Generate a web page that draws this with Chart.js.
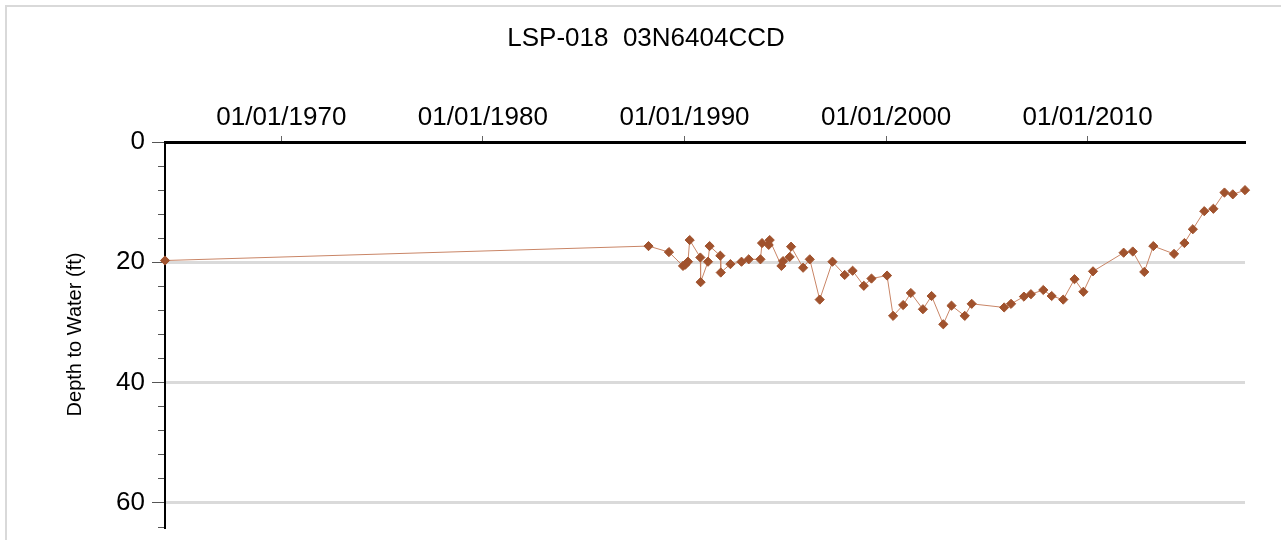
<!DOCTYPE html>
<html>
<head>
<meta charset="utf-8">
<title>LSP-018 03N6404CCD</title>
<script src="https://cdn.jsdelivr.net/npm/chart.js@4.4.0/dist/chart.umd.min.js"></script>
<style>
    html, body { margin: 0; padding: 0; background: #fff; overflow: hidden; }
    #frame { position: absolute; left: 5px; top: 5px; width: 1400px; height: 700px;
             border-top: 2px solid #d9d9d9; border-left: 2px solid #d9d9d9; }
    #wellChart { position: absolute; left: 0; top: 0; }
</style>
</head>
<body>
<div id="frame"></div>
<canvas id="wellChart" width="1281" height="540"></canvas>
<script>
    'use strict';

    var chartTitle = 'LSP-018  03N6404CCD';
    var yTitle = 'Depth to Water (ft)';

    var sampleDates = [
        '1964-03-25', '1988-03-20', '1989-03-25', '1989-12-05', '1990-01-15', '1990-03-05',
        '1990-04-05', '1990-10-15', '1990-10-20', '1991-03-03', '1991-04-01', '1991-10-12',
        '1991-10-20', '1992-04-12', '1992-10-30', '1993-03-10', '1993-10-08', '1993-11-06',
        '1994-03-07', '1994-03-25', '1994-10-23', '1994-11-22', '1995-03-22', '1995-04-16',
        '1995-11-20', '1996-03-20', '1996-09-16', '1997-05-05', '1997-12-12', '1998-05-05',
        '1998-11-24', '1999-04-12', '2000-01-19', '2000-05-08', '2000-11-06', '2001-03-25',
        '2001-10-30', '2002-04-05', '2002-11-03', '2003-04-01', '2003-11-27', '2004-04-01',
        '2005-11-10', '2006-03-15', '2006-11-03', '2007-03-10', '2007-10-20', '2008-03-20',
        '2008-10-15', '2009-05-08', '2009-10-15', '2010-04-08', '2011-10-15', '2012-03-28',
        '2012-10-23', '2013-04-05', '2014-04-15', '2014-10-20', '2015-03-22', '2015-10-15',
        '2016-03-28', '2016-10-15', '2017-03-15', '2017-10-22'
    ];

    // depth to water (ft)
    var depthFt = [
        19.7, 17.3, 18.3, 20.6, 20.4, 19.9,
        16.3, 19.2, 23.3, 19.9, 17.3, 18.9,
        21.7, 20.3, 19.9, 19.5, 19.5, 16.8,
        17.1, 16.3, 20.6, 19.8, 19.1, 17.4,
        20.9, 19.5, 26.2, 19.9, 22.1, 21.4,
        23.9, 22.7, 22.2, 28.9, 27.1, 25.1,
        27.8, 25.6, 30.3, 27.2, 28.9, 26.9,
        27.5, 26.9, 25.7, 25.3, 24.6, 25.6,
        26.2, 22.8, 24.9, 21.5, 18.4, 18.2,
        21.6, 17.3, 18.6, 16.8, 14.5, 11.5,
        11.1, 8.4, 8.7, 8.0
    ];

    var decadeYears = [1970, 1980, 1990, 2000, 2010];
    var depthLabels = [0, 20, 40, 60];

    var fontFamily = '"Liberation Sans", Arial, Helvetica, sans-serif';

    function toTime(s) {
        var p = s.split('-');
        return Date.UTC(+p[0], +p[1] - 1, +p[2]);
    }

    var points = sampleDates.map(function (d, i) {
        return { x: toTime(d), y: depthFt[i] };
    });

    var xMin = toTime(sampleDates[0]);
    var xMax = toTime(sampleDates[sampleDates.length - 1]);

    var wellChart = new Chart(document.getElementById('wellChart'), {
        type: 'line',
        data: {
            datasets: [{
                label: yTitle,
                data: points,
                borderColor: '#c98566',
                borderWidth: 1,
                backgroundColor: '#a0522d',
                pointBackgroundColor: '#a0522d',
                pointBorderColor: '#a0522d',
                pointBorderWidth: 1,
                pointStyle: 'rectRot',
                pointRadius: 4.6,
                tension: 0,
                fill: false,
                clip: false
            }]
        },
        options: {
            responsive: false,
            animation: false,
            layout: { padding: { left: 11, top: 0, right: 0, bottom: 0 } },
            plugins: {
                legend: { display: false },
                tooltip: { enabled: false },
                title: {
                    display: true,
                    text: chartTitle,
                    color: '#000',
                    font: { family: fontFamily, size: 26, weight: 'normal', lineHeight: 1 },
                    padding: { top: 26, bottom: 0 }
                }
            },
            scales: {
                x: {
                    type: 'linear',
                    position: 'top',
                    min: xMin,
                    max: xMax,
                    afterBuildTicks: function (scale) {
                        scale.ticks = decadeYears.map(function (y) {
                            return { value: Date.UTC(y, 0, 1) };
                        });
                    },
                    afterFit: function (scale) { scale.height = 90; },
                    ticks: {
                        autoSkip: false,
                        maxRotation: 0,
                        padding: 3,
                        color: '#000',
                        font: { family: fontFamily, size: 26 },
                        callback: function (value) {
                            return '01/01/' + new Date(value).getUTCFullYear();
                        }
                    },
                    grid: {
                        display: true,
                        drawOnChartArea: false,
                        tickLength: 6,
                        tickColor: '#666',
                        tickWidth: 1
                    },
                    border: { display: true, color: '#000', width: 3 }
                },
                y: {
                    type: 'linear',
                    position: 'left',
                    reverse: true,
                    min: 0,
                    max: 64,
                    weight: 1,
                    afterBuildTicks: function (scale) {
                        scale.ticks = depthLabels.map(function (v) { return { value: v }; });
                    },
                    afterFit: function (scale) { scale.width = 154; },
                    ticks: {
                        padding: 7,
                        color: '#000',
                        font: { family: fontFamily, size: 26, lineHeight: 0.46 }
                    },
                    grid: {
                        color: function (c) {
                            return c.tick && c.tick.value === 0 ? 'rgba(0,0,0,0)' : '#dadada';
                        },
                        lineWidth: 3,
                        tickLength: 13,
                        tickColor: '#555',
                        tickWidth: 1
                    },
                    border: { display: true, color: '#000', width: 2 },
                    title: {
                        display: true,
                        text: yTitle,
                        color: '#000',
                        font: { family: fontFamily, size: 20 },
                        padding: { top: 52, bottom: 0 }
                    }
                },
                yMinor: {
                    type: 'linear',
                    position: 'left',
                    reverse: true,
                    min: 0,
                    max: 64,
                    weight: 0,
                    afterFit: function (scale) { scale.width = 0; },
                    ticks: { display: false, stepSize: 4 },
                    grid: {
                        drawOnChartArea: false,
                        tickLength: 7,
                        tickColor: '#555',
                        tickWidth: 1
                    },
                    border: { display: false }
                },
                rightGap: {
                    type: 'linear',
                    position: 'right',
                    min: 0,
                    max: 64,
                    afterFit: function (scale) { scale.width = 36; },
                    ticks: { display: false },
                    grid: { display: false },
                    border: { display: false }
                }
            }
        }
    });
</script>
</body>
</html>
